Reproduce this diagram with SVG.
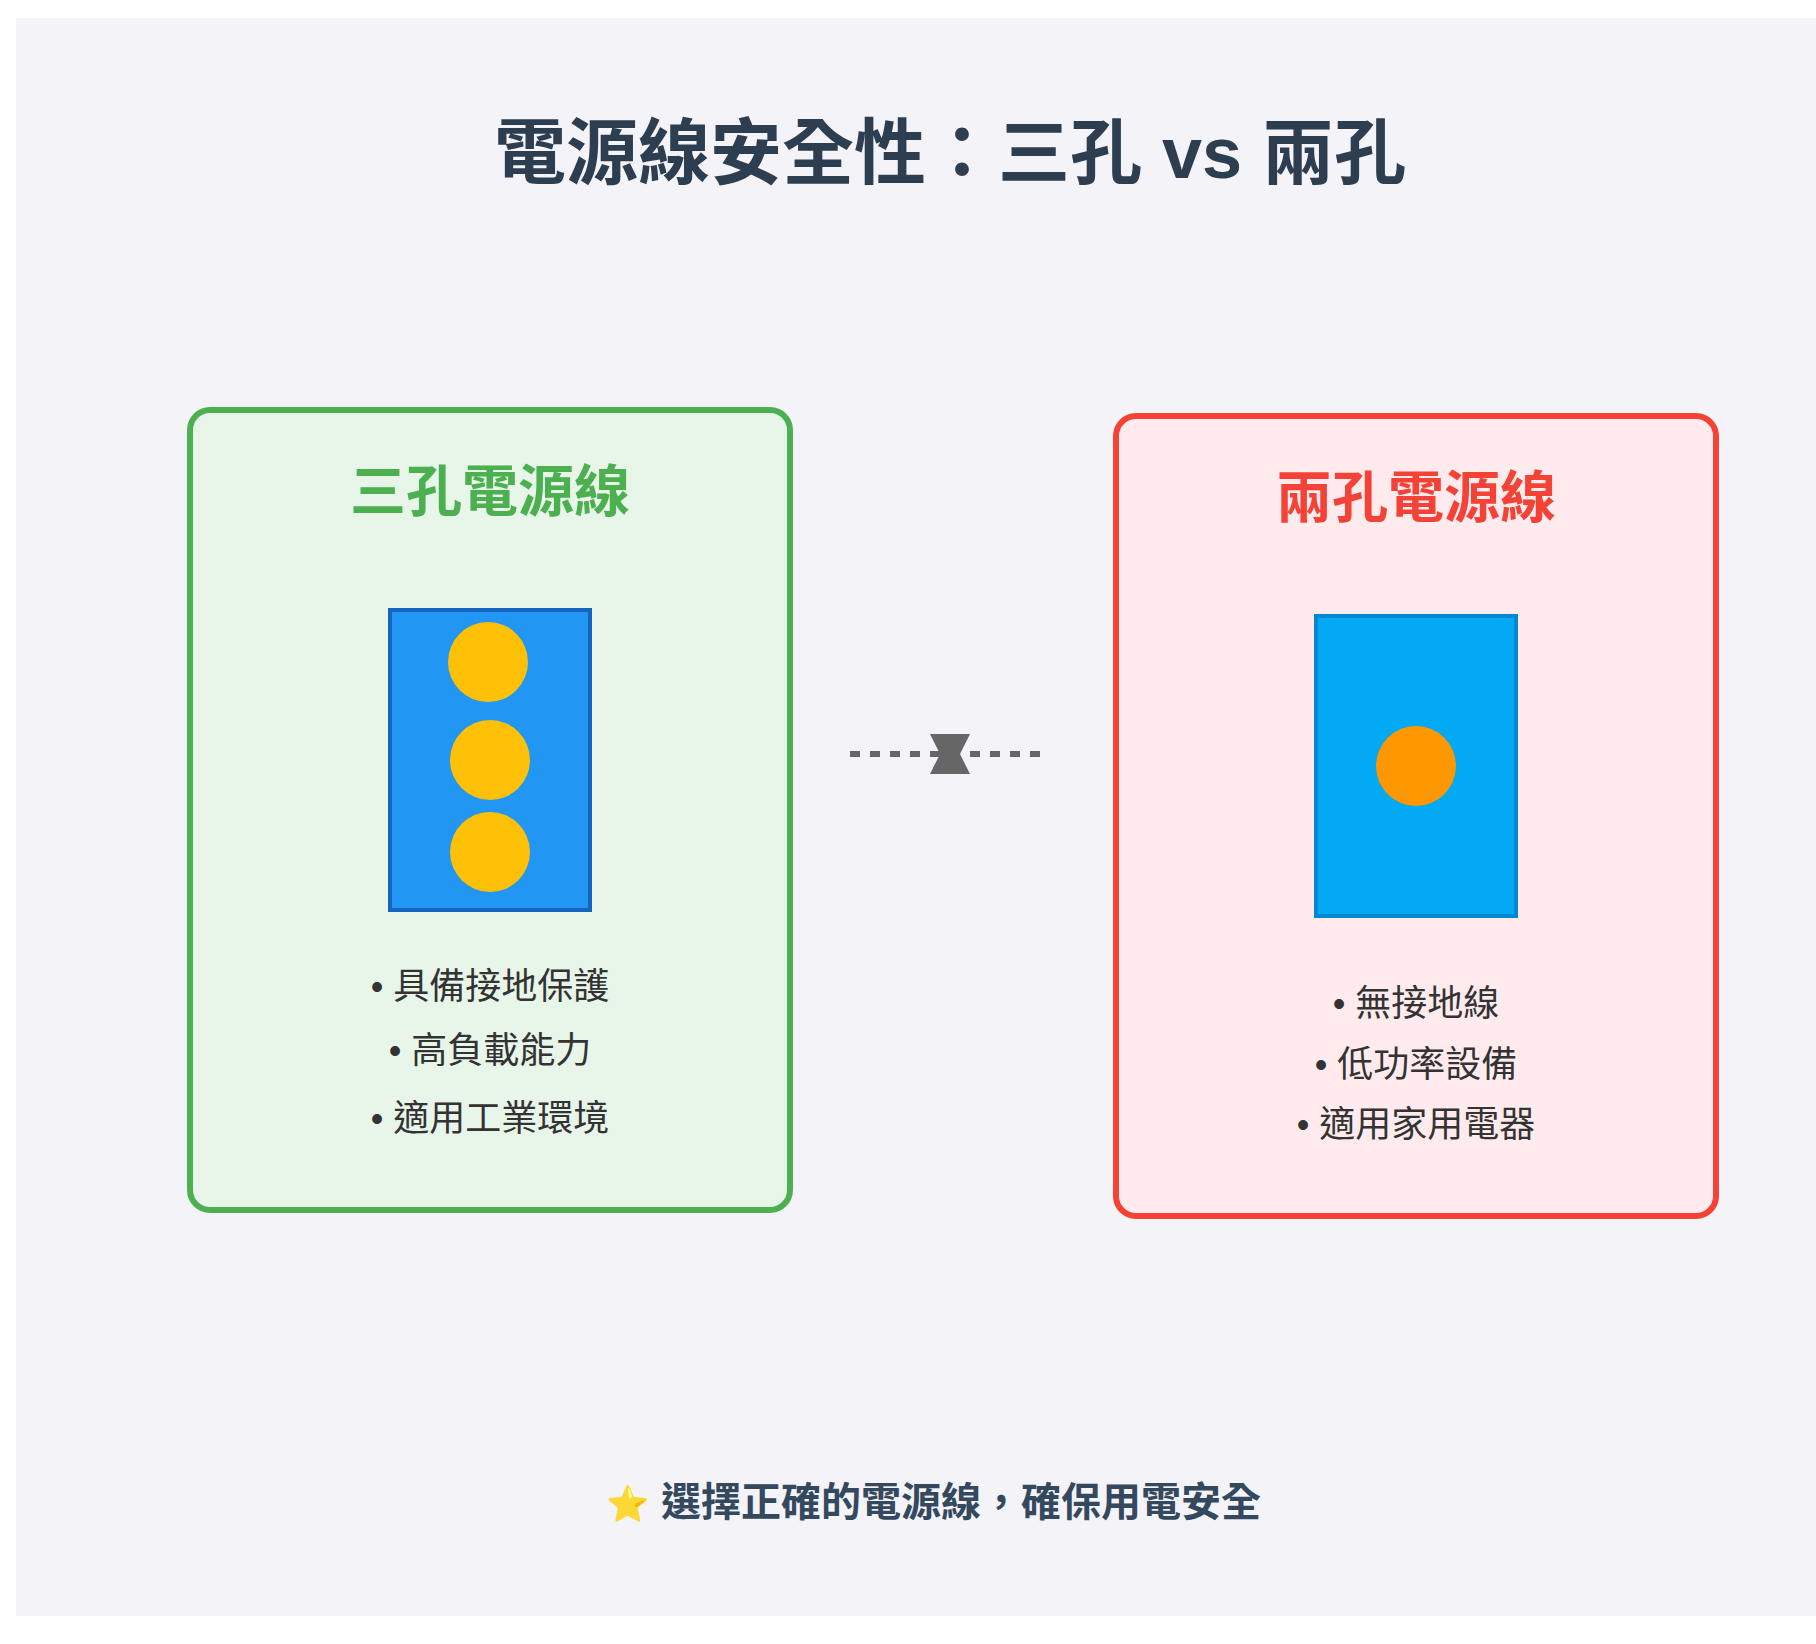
<svg xmlns="http://www.w3.org/2000/svg" width="1816" height="1644" viewBox="0 0 1816 1644">
<style>
text{font-family:"Liberation Sans","Noto Sans CJK TC","Noto Sans CJK SC",sans-serif;text-anchor:middle}
.title{font-size:72px;font-weight:700;fill:#2c3e50}
.head{font-size:56px;font-weight:700}
.item{font-size:36px;fill:#333}
.foot{font-size:40px;font-weight:700;fill:#34495e;text-anchor:start}
.star{font-size:35px}
.pin{fill:#ffc107}
.card{stroke-width:6}
</style>
<rect x="0" y="0" width="1816" height="1644" fill="#fff"/>
<rect id="background" x="16" y="18" width="1800" height="1598" fill="#f3f3f8"/>
<text class="title" x="950" y="178">電源線安全性：三孔 vs 兩孔</text>
<g id="three-pin">
<rect class="card" x="190" y="410" width="600" height="800" rx="20" fill="#e8f5e9" stroke="#4caf50"/>
<text class="head" x="490" y="511" fill="#4caf50">三孔電源線</text>
</g>
<g id="three-pin-plug">
<rect x="390" y="610" width="200" height="300" fill="#2196f3" stroke="#1565c0" stroke-width="4"/>
<ellipse class="pin" cx="488" cy="662" rx="40" ry="40"/>
<ellipse class="pin" cx="490" cy="760" rx="40" ry="40"/>
<ellipse class="pin" cx="490" cy="852" rx="40" ry="40"/>
</g>
<g id="three-pin-list">
<text class="item" x="490" y="999">• 具備接地保護</text>
<text class="item" x="490" y="1063">• 高負載能力</text>
<text class="item" x="490" y="1131">• 適用工業環境</text>
</g>
<g id="two-pin">
<rect class="card" x="1116" y="416" width="600" height="800" rx="20" fill="#ffebee" stroke="#f44336"/>
<text class="head" x="1416" y="517" fill="#f44336">兩孔電源線</text>
</g>
<g id="two-pin-plug">
<rect x="1316" y="616" width="200" height="300" fill="#03a9f4" stroke="#0288d1" stroke-width="4"/>
<ellipse cx="1416" cy="766" rx="40" ry="40" fill="#ff9800"/>
</g>
<g id="two-pin-list">
<text class="item" x="1416" y="1016">• 無接地線</text>
<text class="item" x="1416" y="1077">• 低功率設備</text>
<text class="item" x="1416" y="1137">• 適用家用電器</text>
</g>
<g id="connectors">
<line x1="850" y1="754" x2="1040" y2="754" stroke="#666" stroke-width="6" stroke-dasharray="10 10"/>
<polygon points="930,734 970,734 960,754 970,774 930,774 940,754" fill="#666"/>
</g>
<text class="foot" y="1516"><tspan class="star" x="606">⭐</tspan><tspan x="661"> </tspan><tspan x="661">選擇正確的電源線，確保用電安全</tspan></text>
</svg>
